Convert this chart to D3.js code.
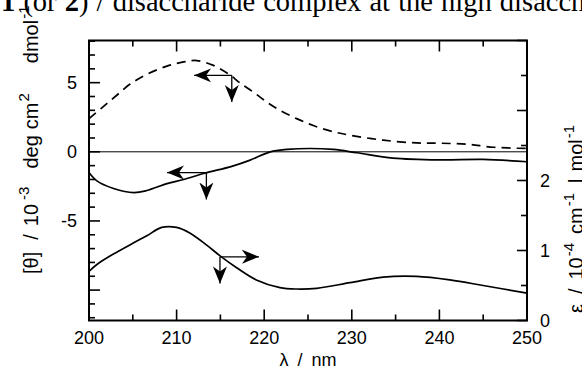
<!DOCTYPE html>
<html>
<head>
<meta charset="utf-8">
<script src="https://cdn.jsdelivr.net/npm/d3@7.9.0/dist/d3.min.js"></script>
<style>
  body { margin: 0; background: #fff; }
  svg { display: block; font-family: "Liberation Sans", Arial, sans-serif; }
</style>
</head>
<body>
<svg id="chart" width="582" height="376"></svg>
<script>
// dashed CD curve (left axis)
const dashWl = [200, 201.5, 203, 204.7, 206.6, 208.9, 210.8, 212.3, 214.2, 216, 217.2, 218.8, 220.3, 221.8, 223.7, 225.6, 227.9, 229.8, 233.6, 237.4, 240.1, 243.1, 246.2, 250];
const dashVal = [2.4, 3.2, 4.0, 4.9, 5.6, 6.2, 6.5, 6.6, 6.25, 5.6, 5.0, 4.3, 3.6, 3.0, 2.4, 1.9, 1.45, 1.2, 0.84, 0.64, 0.62, 0.55, 0.33, 0.24];

// solid CD curve (left axis)
const cdWl = [200, 200.9, 202.8, 205.1, 206.6, 208.9, 210.8, 213.2, 216.3, 218.4, 220.7, 222.6, 225.2, 227.9, 230.6, 234.7, 240, 245, 250];
const cdVal = [-1.5, -2.1, -2.65, -2.95, -2.8, -2.3, -2.0, -1.55, -1.05, -0.6, 0, 0.17, 0.24, 0.17, -0.07, -0.45, -0.58, -0.55, -0.72];

// absorption curve (right axis)
const absWl = [200, 200.9, 202.8, 205.1, 206.6, 208.3, 210, 211.5, 213.4, 215, 216.9, 219.1, 221.8, 223.7, 226, 229.8, 233.6, 237.4, 241.2, 245, 250];
const absVal = [0.70, 0.80, 0.95, 1.11, 1.21, 1.33, 1.33, 1.25, 1.08, 0.92, 0.75, 0.58, 0.47, 0.45, 0.46, 0.54, 0.62, 0.63, 0.58, 0.50, 0.39];

// arrow annotations: [corner wl, corner value, horizontal tip wl, vertical tip value, axis]
const arrowNotes = [
  [216.3, 5.53, 212.0, 3.6, 'left'],
  [213.4, -1.5, 208.9, -3.45, 'left'],
  [214.95, 0.91, 219.4, 0.53, 'right']
];

const xTicks = [200, 210, 220, 230, 240, 250];
const leftTicks = [-5, 0, 5];
const rightTicks = [0, 1, 2];

const svg = d3.select('#chart');
const pLeft = 89, pRight = 527, pTop = 40.5, pBottom = 320.5;

const x = d3.scaleLinear().domain([200, 250]).range([pLeft, pRight]);
const yL = d3.scaleLinear().domain([-12.2, 8.05]).range([pBottom, pTop]);
const yR = d3.scaleLinear().domain([0, 4]).range([pBottom, pTop]);

// caption fragment cut at the top
const cap = svg.append('text')
  .attr('x', 1).attr('y', 11)
  .attr('font-family', '"Liberation Serif", "Times New Roman", serif')
  .attr('font-size', 28.5)
  .attr('word-spacing', 1);
cap.append('tspan').attr('font-weight', 'bold').text('1');
cap.append('tspan').text(' (or ');
cap.append('tspan').attr('font-weight', 'bold').text('2');
cap.append('tspan').text(') / disaccharide  complex at the high disacch');

// minor/major ticks
const tickG = svg.append('g').attr('stroke', '#000').attr('stroke-width', 1.6);
d3.range(200, 251, 5).forEach((w) => {
  const len = w % 10 === 0 ? 11 : 6;
  tickG.append('line').attr('x1', x(w)).attr('x2', x(w)).attr('y1', pTop).attr('y2', pTop + len);
  tickG.append('line').attr('x1', x(w)).attr('x2', x(w)).attr('y1', pBottom).attr('y2', pBottom - len);
});
d3.range(-12, 9, 1).forEach((v) => {
  const len = v % 5 === 0 ? 11 : 6;
  tickG.append('line').attr('x1', pLeft).attr('x2', pLeft + len).attr('y1', yL(v)).attr('y2', yL(v));
});
d3.range(0, 4.01, 0.5).forEach((v) => {
  const len = Number.isInteger(v) ? 10 : 6;
  tickG.append('line').attr('x1', pRight).attr('x2', pRight - len).attr('y1', yR(v)).attr('y2', yR(v));
});

// zero line
svg.append('line')
  .attr('x1', pLeft).attr('x2', pRight)
  .attr('y1', yL(0)).attr('y2', yL(0))
  .attr('stroke', '#000').attr('stroke-width', 1);

// frame
svg.append('rect')
  .attr('x', pLeft).attr('y', pTop)
  .attr('width', pRight - pLeft).attr('height', pBottom - pTop)
  .attr('fill', 'none').attr('stroke', '#000').attr('stroke-width', 2);

// tick labels
svg.append('g').selectAll('text').data(xTicks).join('text')
  .attr('x', (d) => x(d)).attr('y', 344)
  .attr('text-anchor', 'middle').attr('font-size', 18)
  .text((d) => d);
svg.append('g').selectAll('text').data(leftTicks).join('text')
  .attr('x', 77).attr('y', (d) => yL(d) + 6.5)
  .attr('text-anchor', 'end').attr('font-size', 18)
  .text((d) => d);
svg.append('g').selectAll('text').data(rightTicks).join('text')
  .attr('x', 540).attr('y', (d) => yR(d) + 6.5)
  .attr('text-anchor', 'start').attr('font-size', 18)
  .text((d) => d);

// axis titles
svg.append('text')
  .attr('x', x(225)).attr('y', 366)
  .attr('text-anchor', 'middle').attr('font-size', 18)
  .attr('word-spacing', 4)
  .text('λ / nm');

// rotated titles built from pieces: [text, superscript?, gap before]
function rotatedTitle(tx, ty, parts) {
  const t = svg.append('text')
    .attr('transform', `translate(${tx},${ty}) rotate(-90)`)
    .attr('font-size', 20);
  let sup = false;
  parts.forEach(([s, isSup, gap]) => {
    const ts = t.append('tspan').text(s);
    let dy = 0;
    if (isSup && !sup) dy = -9;
    if (!isSup && sup) dy = 9;
    sup = isSup;
    ts.attr('dy', dy).attr('dx', gap || 0);
    if (isSup) ts.attr('font-size', 15);
  });
  return t;
}

rotatedTitle(38, 274, [
  ['[θ]', false, 0], ['/', false, 12], ['10', false, 8], ['-3', true, 4],
  ['deg', false, 18], ['cm', false, 6], ['2', true, 1],
  ['dmol', false, 30], ['-1', true, 1]
]);

rotatedTitle(583, 313, [
  ['ε', false, 0], ['/', false, 10], ['10', false, 9], ['-4', true, 1],
  ['cm', false, 9], ['-1', true, 1], ['l', false, 10], ['mol', false, 7], ['-1', true, 1]
]);

// curves
const lineL = d3.line().x((d) => x(d[0])).y((d) => yL(d[1])).curve(d3.curveCatmullRom);
const lineR = d3.line().x((d) => x(d[0])).y((d) => yR(d[1])).curve(d3.curveCatmullRom);

svg.append('path')
  .attr('d', lineL(d3.zip(dashWl, dashVal)))
  .attr('fill', 'none').attr('stroke', '#000').attr('stroke-width', 1.7)
  .attr('stroke-dasharray', '9,6');
svg.append('path')
  .attr('d', lineL(d3.zip(cdWl, cdVal)))
  .attr('fill', 'none').attr('stroke', '#000').attr('stroke-width', 1.7);
svg.append('path')
  .attr('d', lineR(d3.zip(absWl, absVal)))
  .attr('fill', 'none').attr('stroke', '#000').attr('stroke-width', 1.7);

// arrows
svg.append('defs').append('marker')
  .attr('id', 'head')
  .attr('markerUnits', 'userSpaceOnUse')
  .attr('markerWidth', 20).attr('markerHeight', 20)
  .attr('refX', 17).attr('refY', 8)
  .attr('orient', 'auto')
  .append('path')
  .attr('d', 'M17,8 L0,1 L5,8 L0,15 Z')
  .attr('fill', '#000');

arrowNotes.forEach(([cw, cv, hw, vv, ax]) => {
  const y = ax === 'left' ? yL : yR;
  svg.append('line')
    .attr('x1', x(cw)).attr('y1', y(cv)).attr('x2', x(hw)).attr('y2', y(cv))
    .attr('stroke', '#000').attr('stroke-width', 1.3)
    .attr('marker-end', 'url(#head)');
  svg.append('line')
    .attr('x1', x(cw)).attr('y1', y(cv)).attr('x2', x(cw)).attr('y2', y(vv))
    .attr('stroke', '#000').attr('stroke-width', 1.3)
    .attr('marker-end', 'url(#head)');
});
</script>
</body>
</html>
